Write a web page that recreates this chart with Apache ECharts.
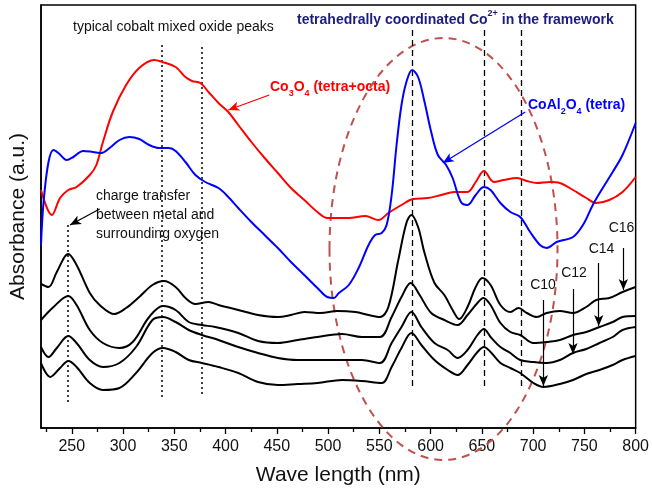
<!DOCTYPE html>
<html>
<head>
<meta charset="utf-8">
<script src="https://cdn.jsdelivr.net/npm/echarts@6/dist/echarts.min.js"></script>
<style>html,body{margin:0;padding:0;background:#fff}#c{width:652px;height:497px}</style>
</head>
<body>
<div id="c"></div>
<script>
// ---- data (wavelength in nm, absorbance in arbitrary units) ----
const wlCo3O4 = [220,230.6,238.6,246.6,254.7,267.6,274,280.4,290,303,315.8,330.3,338.3,351.3,360.9,367.3,375.4,383.4,393.1,402.7,412.4,425.2,438.1,451,463.8,476.8,489.6,499.2,507.3,520.2,536.2,549.2,558.8,571.6,582.9,597.4,610.3,623.1,636,644,652,661.7,671.4,684.3,693.9,703.6,716.4,726.1,738.9,751.8,761.5,774.3,787.2,800];
const absCo3O4 = [2.38,2.13,2.30,2.38,2.41,2.53,2.63,2.86,3.16,3.43,3.60,3.68,3.66,3.61,3.51,3.47,3.45,3.36,3.25,3.16,3.03,2.86,2.70,2.55,2.40,2.28,2.16,2.10,2.10,2.10,2.12,2.08,2.15,2.23,2.29,2.30,2.33,2.36,2.36,2.46,2.57,2.46,2.48,2.50,2.47,2.45,2.46,2.45,2.38,2.30,2.25,2.28,2.36,2.51];

const wlCoAl2O4 = [220,222.5,227.3,232.2,237,245.1,251.5,261.1,270.8,278.9,286.9,296.6,306.2,315.8,325.5,335.2,344.8,351.3,360.9,370.6,380.2,393.1,402.7,412.4,425.2,438.1,451,463.8,476.8,489.6,499.2,505.7,510.5,520.2,529.8,539.5,545.9,552.3,557.1,562,566.8,571.6,576.4,582,587.8,594.1,600.6,607.1,615.1,621.5,629.6,636,644,652,658.5,668.1,677.8,687.4,697.1,706.7,713.2,722.9,738.9,748.6,758.2,767.9,777.6,787.2,800];
const absCoAl2O4 = [1.83,2.26,2.66,2.78,2.75,2.68,2.71,2.77,2.76,2.75,2.80,2.88,2.91,2.89,2.83,2.80,2.80,2.77,2.66,2.53,2.46,2.40,2.31,2.20,2.06,1.93,1.80,1.66,1.53,1.40,1.31,1.30,1.35,1.43,1.60,1.83,1.93,1.95,2.03,2.33,2.83,3.23,3.46,3.58,3.51,3.26,2.96,2.73,2.63,2.50,2.26,2.23,2.33,2.41,2.38,2.25,2.16,2.11,1.96,1.83,1.80,1.86,1.91,2.03,2.23,2.40,2.56,2.73,3.05];

const wlC16 = [220,227.3,235.4,246.6,254.7,267.6,277.2,291.7,303,315.8,328.7,340,351.3,360.9,370.6,383.4,393.1,412.4,431.7,451,463.8,476.8,492.8,508.9,526.6,539.5,550.7,558.8,568.5,576.4,581.3,587.8,594.1,603.8,613.4,621.5,627.9,636,644,650.5,658.5,668.1,677.8,685.8,693.9,703.6,713.2,726.1,738.9,751.8,761.5,774.3,787.2,800];
const absC16 = [1.44,1.41,1.56,1.74,1.63,1.35,1.23,1.14,1.20,1.31,1.43,1.47,1.41,1.30,1.24,1.26,1.23,1.18,1.13,1.11,1.13,1.16,1.15,1.17,1.16,1.13,1.11,1.21,1.68,2.05,2.13,2.01,1.75,1.45,1.33,1.18,1.09,1.21,1.41,1.50,1.43,1.23,1.16,1.20,1.15,1.11,1.15,1.17,1.15,1.21,1.28,1.30,1.36,1.41];

const wlC14 = [220,232.2,246.6,254.7,267.6,280.4,296.5,309.4,325.5,339,351.3,364.1,377,389.9,412.4,431.7,451,470.3,489.6,513.7,533,550.7,562,571.6,580.6,589.3,600.6,613.4,626.4,636,645.7,651.5,658.5,668.1,677.8,687.4,700.3,713.2,726.1,738.9,751.8,764.7,777.6,787.2,800];
const absC14 = [1.08,1.21,1.32,1.23,0.98,0.85,0.80,0.86,1.11,1.22,1.18,1.06,1.03,1.01,0.95,0.87,0.85,0.88,0.91,0.94,0.91,0.91,1.11,1.31,1.45,1.33,1.15,1.08,1.03,1.13,1.25,1.30,1.23,1.05,0.96,0.93,0.85,0.86,0.88,0.93,0.96,1.01,1.06,1.11,1.12];

const wlC12 = [220,227.3,235.4,246.6,254.7,267.6,280.4,296.5,312.7,328.7,339,351.3,364.1,377,393.1,412.4,431.7,451,470.3,489.6,513.7,533,550.7,562,571.6,581.3,591,603.8,616.7,626.4,636,645.7,652,658.5,668.1,677.8,687.4,700.3,713.2,726.1,738.9,751.8,764.7,777.6,787.2,800];
const absC12 = [0.81,0.71,0.80,0.92,0.85,0.68,0.61,0.65,0.81,1.08,1.11,1.06,0.98,0.93,0.88,0.81,0.75,0.70,0.68,0.68,0.68,0.68,0.65,0.85,1.01,1.16,1.01,0.85,0.78,0.70,0.78,0.93,0.99,0.91,0.81,0.75,0.68,0.66,0.65,0.68,0.75,0.79,0.85,0.91,0.98,1.01];

const wlC10 = [220,229,238.6,246.6,254.7,267.6,280.4,296.5,312.7,328.7,339,351.3,364.1,377,393.1,412.4,431.7,451,470.3,489.6,513.7,533,552.3,562,571.6,581.3,591,603.8,616.7,626.4,636,645.7,652,658.5,668.1,677.8,687.4,700.3,710,726.1,738.9,751.8,764.7,777.6,787.2,800];
const absC10 = [0.65,0.51,0.60,0.67,0.61,0.45,0.38,0.40,0.55,0.75,0.80,0.76,0.68,0.65,0.61,0.55,0.46,0.43,0.44,0.45,0.48,0.47,0.45,0.61,0.80,0.95,0.83,0.68,0.58,0.53,0.63,0.76,0.81,0.76,0.65,0.60,0.55,0.45,0.41,0.44,0.48,0.54,0.58,0.63,0.68,0.72];

// axis ticks (nm)
const xMajorTicks = [250,300,350,400,450,500,550,600,650,700,750,800];
const xMinorTicks = [225,275,325,375,425,475,525,575,625,675,725,775];

// reference peak positions (nm) and their vertical extents (a.u.)
const dottedPeaks = [246.5, 338, 377];
const dottedSpan  = [[2.03,0.23],[3.83,0.31],[3.81,0.34]];
const dashedPeaks = [582, 652, 688];
const dashedSpan  = [[3.98,0.41],[3.98,0.40],[3.98,0.40]];

const xMin = 220, xMax = 800;

const zip = (a,b) => a.map((v,i)=>[v,b[i]]);
const FONT = 'Liberation Sans, Arial, sans-serif';

const chart = echarts.init(document.getElementById('c'), null, {renderer:'canvas'});

function seg(x1,y1,x2,y2,style){
  return [{coord:[x1,y1], lineStyle:style},{coord:[x2,y2]}];
}
const guideLines = [];
dottedPeaks.forEach((x,i)=>guideLines.push(seg(x,dottedSpan[i][0],x,dottedSpan[i][1],{type:[2,3],width:1.5,color:'#000'})));
dashedPeaks.forEach((x,i)=>guideLines.push(seg(x,dashedSpan[i][0],x,dashedSpan[i][1],{type:[6,4],width:1.3,color:'#000'})));

const blackArrows = [
  seg(277.2,2.19,248.3,2.03,{color:'#000',width:1.2,type:'solid'}),
  seg(710,1.28,710,0.42,{color:'#000',width:1.2,type:'solid'}),
  seg(738.9,1.39,738.9,0.74,{color:'#000',width:1.2,type:'solid'}),
  seg(764,1.65,764,1.02,{color:'#000',width:1.2,type:'solid'}),
  seg(788,1.80,788,1.38,{color:'#000',width:1.2,type:'solid'})
];

function lineSeries(name, wl, ab, color, extra){
  return Object.assign({
    name, type:'line', data: zip(wl,ab), smooth:0.35, showSymbol:false, symbol:'none',
    xAxisIndex:0, yAxisIndex:0,
    lineStyle:{color, width:2}, silent:true, animation:false, z:3
  }, extra||{});
}

const option = {
  animation:false,
  grid:{left:36, right:15, top:5, bottom:69, show:true, borderColor:'#000', borderWidth:1.5},
  xAxis:[{
    type:'value', min:xMin, max:xMax, position:'bottom',
    axisLine:{show:true, onZero:false, lineStyle:{color:'#000', width:1.5}},
    axisTick:{show:true, inside:false, length:6, customValues:xMajorTicks, lineStyle:{color:'#000', width:1.3}},
    splitLine:{show:false},
    axisLabel:{color:'#111', fontSize:16, fontFamily:FONT, margin:11, customValues:xMajorTicks},
    name:'Wave length (nm)', nameLocation:'middle', nameGap:37,
    nameTextStyle:{fontSize:21, fontFamily:FONT, color:'#111'}
  },{
    type:'value', min:xMin, max:xMax, position:'bottom',
    axisLine:{show:false, onZero:false},
    axisTick:{show:true, inside:false, length:4, customValues:xMinorTicks, lineStyle:{color:'#000', width:1.3}},
    axisLabel:{show:false}, splitLine:{show:false}
  }],
  yAxis:{
    type:'value', min:0, max:4.23,
    axisLine:{show:true, lineStyle:{color:'#000', width:1.5}},
    axisTick:{show:false}, axisLabel:{show:false}, splitLine:{show:false},
    name:'Absorbance (a.u.)', nameLocation:'middle', nameGap:12,
    nameTextStyle:{fontSize:21, fontFamily:FONT, color:'#111'}
  },
  series:[
    lineSeries('Co3O4', wlCo3O4, absCo3O4, '#ff0000', {
      markLine:{silent:true, symbol:['none','arrow'], symbolSize:[7,11], label:{show:false}, animation:false,
        data:[seg(442.6,3.33,402.7,3.18,{color:'#ff0000',width:1.3,type:'solid'})]}
    }),
    lineSeries('CoAl2O4', wlCoAl2O4, absCoAl2O4, '#0000ff', {
      markLine:{silent:true, symbol:['none','arrow'], symbolSize:[7,11], label:{show:false}, animation:false,
        data:[seg(692.3,3.16,611.9,2.65,{color:'#0000ff',width:1.3,type:'solid'})]}
    }),
    lineSeries('C16', wlC16, absC16, '#000', {
      markLine:{silent:true, symbol:['none','arrow'], symbolSize:[7,11], label:{show:false}, animation:false,
        data: blackArrows}
    }),
    lineSeries('C14', wlC14, absC14, '#000'),
    lineSeries('C12', wlC12, absC12, '#000'),
    lineSeries('C10', wlC10, absC10, '#000', {
      markLine:{silent:true, symbol:['none','none'], label:{show:false}, animation:false, z:1,
        data: guideLines}
    })
  ],
  graphic:[
    {type:'ellipse', shape:{cx:443.5, cy:249, rx:114, ry:211}, silent:true, z:1,
      style:{fill:'none', stroke:'#c0504d', lineWidth:2, lineDash:[8,6]}},
    {type:'text', left:73, top:20, silent:true,
      style:{text:'typical cobalt mixed oxide peaks', fontSize:14, fontFamily:FONT, fill:'#111'}},
    {type:'text', left:297, top:9, silent:true,
      style:{text:'{b|tetrahedrally coordinated Co}{s|2+}{b| in the framework}',
        rich:{b:{fontSize:14, fontWeight:'bold', fontFamily:FONT, fill:'#1c1c80', lineHeight:18, verticalAlign:'bottom'},
              s:{fontSize:9, fontWeight:'bold', fontFamily:FONT, fill:'#1c1c80', lineHeight:18, verticalAlign:'top'}}}},
    {type:'text', left:270, top:80, silent:true,
      style:{text:'{b|Co}{s|3}{b|O}{s|4}{b| (tetra+octa)}',
        rich:{b:{fontSize:14, fontWeight:'bold', fontFamily:FONT, fill:'#ff0000', lineHeight:18, verticalAlign:'top'},
              s:{fontSize:9, fontWeight:'bold', fontFamily:FONT, fill:'#ff0000', lineHeight:18, verticalAlign:'bottom'}}}},
    {type:'text', left:528, top:98, silent:true,
      style:{text:'{b|CoAl}{s|2}{b|O}{s|4}{b| (tetra)}',
        rich:{b:{fontSize:14, fontWeight:'bold', fontFamily:FONT, fill:'#0000ff', lineHeight:18, verticalAlign:'top'},
              s:{fontSize:9, fontWeight:'bold', fontFamily:FONT, fill:'#0000ff', lineHeight:18, verticalAlign:'bottom'}}}},
    {type:'text', left:96, top:187, silent:true,
      style:{text:'charge transfer\nbetween metal and\nsurrounding oxygen', fontSize:14, lineHeight:18.7, fontFamily:FONT, fill:'#111'}},
    {type:'text', x:543, y:285, silent:true, style:{text:'C10', fontSize:14, fontFamily:FONT, fill:'#111', align:'center', verticalAlign:'middle'}},
    {type:'text', x:574, y:273, silent:true, style:{text:'C12', fontSize:14, fontFamily:FONT, fill:'#111', align:'center', verticalAlign:'middle'}},
    {type:'text', x:601.5, y:249, silent:true, style:{text:'C14', fontSize:14, fontFamily:FONT, fill:'#111', align:'center', verticalAlign:'middle'}},
    {type:'text', x:621.5, y:228, silent:true, style:{text:'C16', fontSize:14, fontFamily:FONT, fill:'#111', align:'center', verticalAlign:'middle'}}
  ]
};
chart.setOption(option);
</script>
</body>
</html>
